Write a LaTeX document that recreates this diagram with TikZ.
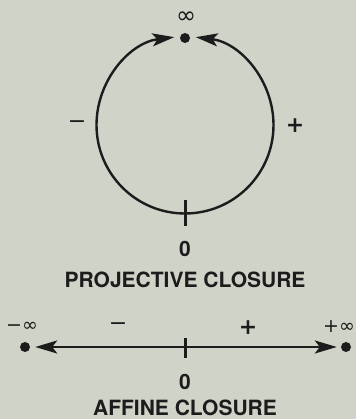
\documentclass[tikz,border=0pt]{standalone}
\usepackage{fontspec}
\setmainfont{TeX Gyre Heros}
\newfontfamily\symfont{DejaVu Sans}
\usetikzlibrary{arrows.meta,positioning}
\definecolor{paper}{RGB}{208,211,200}
\definecolor{ink}{RGB}{28,28,28}

\begin{document}
\begin{tikzpicture}[x=1pt, y=1pt,
    lbl/.style={font=\fontsize{21}{24}\selectfont\bfseries, text=ink, inner sep=0pt},
    sym/.style={font=\fontsize{19}{22}\selectfont\symfont, text=ink, inner sep=0pt},
    sgn/.style={font=\fontsize{22}{24}\selectfont\symfont, text=ink, inner sep=0pt},
    pt/.style={circle, fill=ink, inner sep=0pt, minimum size=10pt},
    tick/.style={draw=ink, line width=3pt},
    rel/.style={-{Stealth[length=22pt, width=13pt, inset=5pt]}, draw=ink, line width=2.4pt}
]
\fill[paper] (0,0) rectangle (356,419);
\useasboundingbox (0,0) rectangle (356,419);

% projective closure
\coordinate (c) at (185,294);
\coordinate (zero) at (185,205.5);
\node[pt] (inf) at (185,381) {};
\node[sym, font=\fontsize{24}{26}\selectfont\symfont] (infl) at (186,401) {∞};
\draw[rel] (zero) arc[start angle=-90, end angle=83, radius=88.5];
\draw[rel] (zero) arc[start angle=270, end angle=97, radius=88.5];
\draw[tick] ([yshift=13pt]zero) -- ([yshift=-13pt]zero);
\node[sgn] (minus) at (77,294) {−};
\node[sgn, font=\fontsize{22}{24}\selectfont\symfont\bfseries] (plus) at (295,293) {+};
\node[lbl] (zerol) at (185,170) {0};
\node[lbl, below=15pt of zerol] (ptitle) {PROJECTIVE CLOSURE};

% affine closure
\coordinate (mid) at (185,72);
\node[pt] (ninf) at (25,72) {};
\node[pt] (pinf) at (346,72) {};
\draw[rel, shorten >=5pt] (mid) -- (ninf);
\draw[rel, shorten >=4pt] (mid) -- (pinf);
\draw[tick] ([yshift=9pt]mid) -- ([yshift=-11pt]mid);
\node[sym] (ninfl) at (22,92) {−∞};
\node[sym] (pinfl) at (339,92) {+∞};
\node[sgn] (aminus) at (118,92) {−};
\node[sgn, font=\fontsize{22}{24}\selectfont\symfont\bfseries] (aplus) at (248,91) {+};
\node[lbl] (azerol) at (185,37) {0};
\node[lbl] (atitle) at (185,11) {AFFINE CLOSURE};
\end{tikzpicture}
\end{document}
